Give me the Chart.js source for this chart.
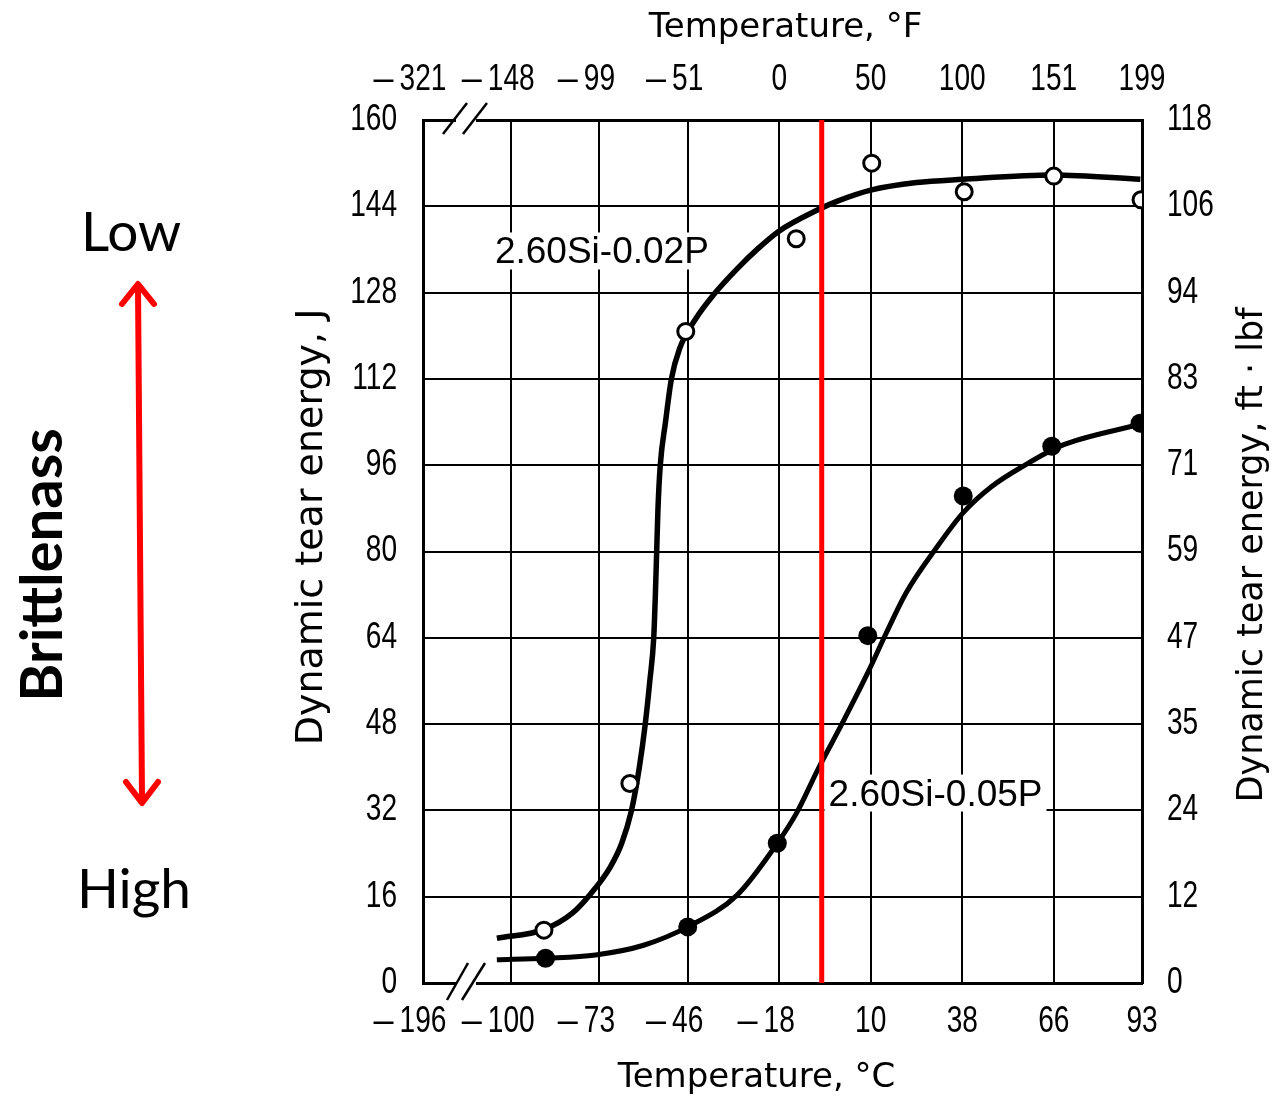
<!DOCTYPE html>
<html>
<head>
<meta charset="utf-8">
<script src="https://cdn.jsdelivr.net/npm/chart.js@4.4.1/dist/chart.umd.min.js"></script>
<style>
  html, body { margin: 0; padding: 0; background: #fff; }
  #wrap { width: 1275px; height: 1096px; position: relative; }
</style>
</head>
<body>
<div id="wrap"><canvas id="chart"></canvas></div>
<script>
// vertical grid lines (deg C); the first one stands for the axis break at -196
const xTickPositions = [-127, -100, -73, -46, -18, 10, 38, 66, 93];
const xLabelsC = [-196, -100, -73, -46, -18, 10, 38, 66, 93];
const xLabelsF = [-321, -148, -99, -51, 0, 50, 100, 151, 199];
const yTicksJ = [0, 16, 32, 48, 64, 80, 96, 112, 128, 144, 160];
const yLabelsFtLbf = [0, 12, 24, 35, 47, 59, 71, 83, 94, 106, 118];

// 2.60Si-0.02P measured points (open circles)
const lowPTempC = [-90, -63.7, -46.6, -12.8, 10.3, 38.6, 66, 92.7];
const lowPEnergy = [9.8, 37, 120.8, 138, 152, 146.7, 149.6, 145.2];
// 2.60Si-0.02P fitted curve
const lowPCurveC = [-104.4, -90.1, -81.4, -75.6, -69.7, -66.2, -63.2, -60.8, -59.0, -57.6, -56.4, -55.9, -55.5, -55.1, -54.4, -52.8, -51.0, -48.5, -43.5, -38.1, -30.9, -24.6, -18.3, -6, 0, 10, 24, 38, 66, 92.5];
const lowPCurveJ = [8.3, 9.9, 12.9, 16.6, 21.5, 25.9, 32, 40, 48, 56, 64, 72, 80, 88, 96, 104, 112, 117.6, 123.2, 127.6, 132.4, 136.1, 139.3, 143.4, 145, 147, 148.4, 149, 149.8, 149];

// 2.60Si-0.05P measured points (filled circles)
const highPTempC = [-89.5, -46, -18.6, 9.1, 38.3, 65.4, 92.4];
const highPEnergy = [4.6, 10.4, 25.9, 64.4, 90.3, 99.5, 103.8];
// 2.60Si-0.05P fitted curve
const highPCurveC = [-104.4, -89.5, -74.2, -59.5, -46, -30.9, -18.6, -12.8, -6, 0.9, 9.4, 14.6, 20.8, 30, 38.3, 46.9, 57.7, 67.8, 92.4];
const highPCurveJ = [4.3, 4.6, 5.2, 7, 10.4, 16.3, 25.9, 31.4, 39.8, 47.7, 57.9, 64.7, 72.3, 80.6, 87.2, 92.0, 96.2, 99.5, 103.6];

// red marker line
const markerC = -5;

function pairs(xs, ys) {
  return xs.map((v, i) => ({ x: v, y: ys[i] }));
}

// the scanned tick digits are narrow, so squeeze Liberation Sans a bit
const tickFont = '36px "Liberation Sans", Arial, sans-serif';
const squeeze = 0.78;
const titleFont = '34px "DejaVu Sans", sans-serif';
const curveFont = '37px "Liberation Sans", Arial, sans-serif';

function narrowText(ctx, text, px, py, align) {
  ctx.save();
  ctx.translate(px, py);
  ctx.scale(squeeze, 1);
  ctx.textAlign = align;
  ctx.fillText(text, 0, 0);
  ctx.restore();
}

function drawSigned(ctx, value, cx, cy) {
  const digits = String(Math.abs(value));
  const w = ctx.measureText(digits).width * squeeze;
  narrowText(ctx, digits, cx, cy, 'center');
  if (value < 0) {
    ctx.textAlign = 'right';
    ctx.fillText('\u2013', cx - w / 2 - 6, cy);
  }
}

function curveLabel(ctx, text, px, py) {
  ctx.font = curveFont;
  const w = ctx.measureText(text).width;
  ctx.fillStyle = '#fff';
  ctx.fillRect(px - 4, py - 31, w + 8, 37);
  ctx.fillStyle = '#000';
  ctx.textAlign = 'left';
  ctx.textBaseline = 'alphabetic';
  ctx.fillText(text, px, py);
}

function rotatedText(ctx, text, font, px, py) {
  ctx.save();
  ctx.translate(px, py);
  ctx.rotate(-Math.PI / 2);
  ctx.font = font;
  ctx.textAlign = 'center';
  ctx.textBaseline = 'alphabetic';
  ctx.fillText(text, 0, 0);
  ctx.restore();
}

const overlay = {
  id: 'overlay',
  afterDraw(chart) {
    const { ctx, chartArea: a, scales } = chart;
    const x = scales.x, y = scales.y;
    ctx.save();

    // curve names
    curveLabel(ctx, '2.60Si-0.02P', x.getPixelForValue(-105), y.getPixelForValue(133.4));
    curveLabel(ctx, '2.60Si-0.05P', x.getPixelForValue(-2.9), y.getPixelForValue(32.9));

    // axis break marks
    ctx.strokeStyle = '#000';
    ctx.lineWidth = 2.5;
    ctx.fillStyle = '#fff';
    ctx.fillRect(a.left + 33, a.top - 3, 20, 7);
    ctx.fillRect(a.left + 33, a.bottom - 3, 20, 7);
    [[a.left + 20, a.left + 44], [a.left + 40, a.left + 64]].forEach(s => {
      ctx.beginPath();
      ctx.moveTo(s[0], a.top + 14);
      ctx.lineTo(s[1], a.top - 17);
      ctx.stroke();
    });
    [[a.left + 24, a.left + 45], [a.left + 39, a.left + 62]].forEach(s => {
      ctx.beginPath();
      ctx.moveTo(s[0], a.bottom + 17);
      ctx.lineTo(s[1], a.bottom - 20);
      ctx.stroke();
    });

    // tick labels
    ctx.fillStyle = '#000';
    ctx.font = tickFont;
    ctx.textBaseline = 'middle';
    xTickPositions.forEach((v, i) => {
      const px = x.getPixelForValue(v);
      drawSigned(ctx, xLabelsC[i], px, a.bottom + 39);
      drawSigned(ctx, xLabelsF[i], px, a.top - 40);
    });
    yTicksJ.forEach((v, i) => {
      const py = y.getPixelForValue(v);
      narrowText(ctx, String(v), a.left - 26, py, 'right');
      narrowText(ctx, String(yLabelsFtLbf[i]), a.right + 25, py, 'left');
    });

    // axis titles
    ctx.font = titleFont;
    ctx.textBaseline = 'alphabetic';
    ctx.textAlign = 'center';
    const midX = (a.left + a.right) / 2;
    ctx.fillText('Temperature, \u00B0F', midX + 3, a.top - 83);
    ctx.fillText('Temperature, \u00B0C', midX - 26, a.bottom + 104);
    rotatedText(ctx, 'Dynamic tear energy, J', '38px "DejaVu Sans", sans-serif', a.left - 101, 527);
    rotatedText(ctx, 'Dynamic tear energy, ft \u00B7 lbf', '35px "DejaVu Sans", sans-serif', a.right + 120, 555);

    // brittleness annotation on the left
    ctx.font = '55px Lato, "Open Sans", sans-serif';
    ctx.fillText('Low', 131, 251);
    ctx.fillText('High', 134, 908);
    rotatedText(ctx, 'Brittlenass', 'bold 58px Lato, "Open Sans", sans-serif', 62, 565);

    ctx.strokeStyle = '#ff0000';
    ctx.lineWidth = 6;
    ctx.lineCap = 'round';
    ctx.lineJoin = 'round';
    ctx.beginPath();
    ctx.moveTo(138, 286);
    ctx.lineTo(142, 800);
    ctx.stroke();
    ctx.beginPath();
    ctx.moveTo(122, 304);
    ctx.lineTo(138, 284);
    ctx.lineTo(154, 304);
    ctx.stroke();
    ctx.beginPath();
    ctx.moveTo(126, 782);
    ctx.lineTo(142, 803);
    ctx.lineTo(158, 782);
    ctx.stroke();

    ctx.restore();
  }
};

const hiddenTicks = { display: false };
const noTicksGrid = { display: false, drawTicks: false };
const axisBorder = { display: true, width: 3, color: '#000' };

new Chart(document.getElementById('chart'), {
  type: 'line',
  data: {
    datasets: [
      {
        label: 'marker',
        data: [{ x: markerC, y: 0 }, { x: markerC, y: 160 }],
        borderColor: '#ff0000',
        borderWidth: 5,
        pointRadius: 0
      },
      {
        label: '2.60Si-0.02P data',
        data: pairs(lowPTempC, lowPEnergy),
        showLine: false,
        pointRadius: 8,
        pointBorderWidth: 3,
        pointBackgroundColor: '#fff',
        pointBorderColor: '#000'
      },
      {
        label: '2.60Si-0.05P data',
        data: pairs(highPTempC, highPEnergy),
        showLine: false,
        pointRadius: 9.5,
        pointBorderWidth: 0,
        pointBackgroundColor: '#000',
        pointBorderColor: '#000'
      },
      {
        label: '2.60Si-0.02P',
        data: pairs(lowPCurveC, lowPCurveJ),
        borderColor: '#000',
        borderWidth: 5.5,
        pointRadius: 0,
        cubicInterpolationMode: 'monotone'
      },
      {
        label: '2.60Si-0.05P',
        data: pairs(highPCurveC, highPCurveJ),
        borderColor: '#000',
        borderWidth: 5,
        pointRadius: 0,
        cubicInterpolationMode: 'monotone'
      }
    ]
  },
  options: {
    responsive: true,
    maintainAspectRatio: false,
    animation: false,
    layout: { padding: { left: 423, right: 133, top: 120, bottom: 113 } },
    plugins: { legend: { display: false }, tooltip: { enabled: false } },
    scales: {
      x: {
        type: 'linear',
        position: 'bottom',
        min: -127,
        max: 93,
        afterBuildTicks: s => { s.ticks = xTickPositions.map(v => ({ value: v })); },
        ticks: hiddenTicks,
        grid: { color: '#000', lineWidth: 2, drawTicks: false },
        border: axisBorder
      },
      x2: {
        type: 'linear',
        position: 'top',
        min: -127,
        max: 93,
        ticks: hiddenTicks,
        grid: noTicksGrid,
        border: axisBorder
      },
      y: {
        type: 'linear',
        position: 'left',
        min: 0,
        max: 160,
        afterBuildTicks: s => { s.ticks = yTicksJ.map(v => ({ value: v })); },
        ticks: hiddenTicks,
        grid: { color: '#000', lineWidth: 2, drawTicks: false },
        border: axisBorder
      },
      y2: {
        type: 'linear',
        position: 'right',
        min: 0,
        max: 160,
        ticks: hiddenTicks,
        grid: noTicksGrid,
        border: axisBorder
      }
    }
  },
  plugins: [overlay]
});
</script>
</body>
</html>
